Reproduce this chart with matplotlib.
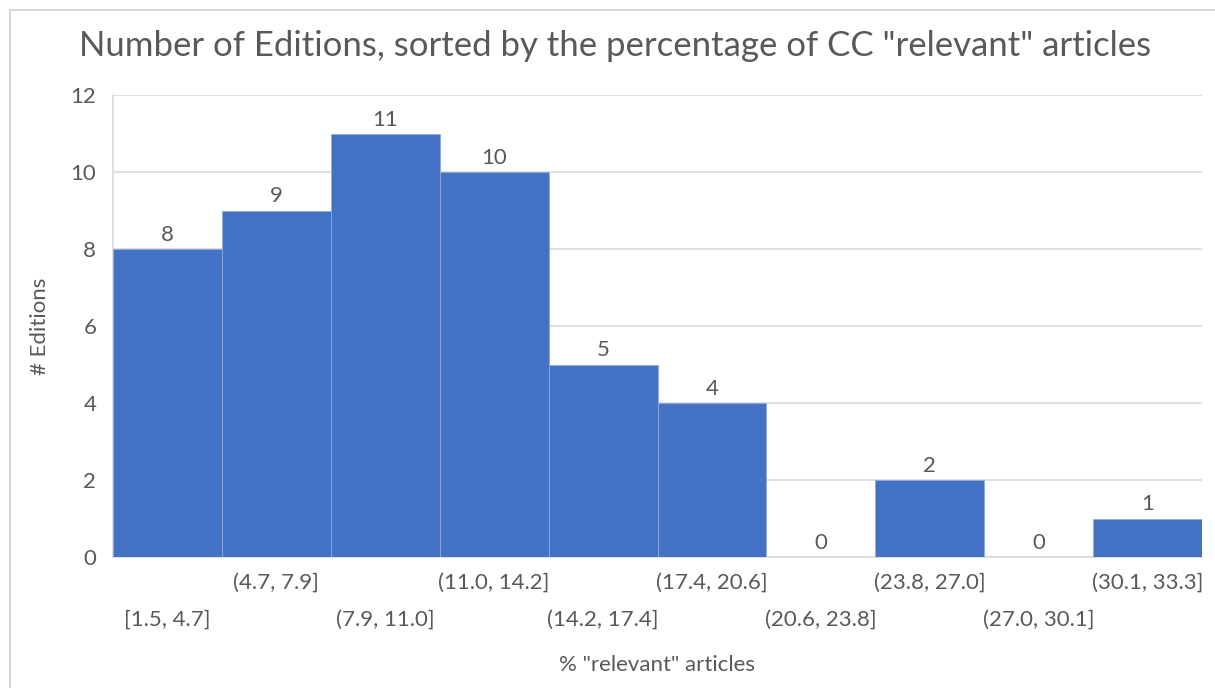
import matplotlib
matplotlib.use("Agg")
import matplotlib.pyplot as plt
from matplotlib.lines import Line2D

plt.rcParams['font.family'] = ['Lato', 'DejaVu Sans']

bins = ["[1.5, 4.7]", "(4.7, 7.9]", "(7.9, 11.0]", "(11.0, 14.2]", "(14.2, 17.4]",
        "(17.4, 20.6]", "(20.6, 23.8]", "(23.8, 27.0]", "(27.0, 30.1]", "(30.1, 33.3]"]
counts = [8, 9, 11, 10, 5, 4, 0, 2, 0, 1]
y_ticks = [0, 2, 4, 6, 8, 10, 12]

title = 'Number of Editions, sorted by the percentage of CC "relevant" articles'
x_title = '% "relevant" articles'
y_title = '# Editions'

text_color = "#595959"
grid_color = "#d9d9d9"
bar_color = "#4472c4"
fs = 16

W, H = 1215, 688
fig = plt.figure(figsize=(W / 100, H / 100), dpi=100)
ax = fig.add_axes([113 / W, (H - 557) / H, (1202 - 113) / W, (557 - 95) / H])

x = list(range(len(bins)))
ax.bar(x, counts, width=1.0, color=bar_color, edgecolor="#8eaadb", linewidth=0.6, zorder=3)

ax.set_xlim(-0.5, len(bins) - 0.5)
ax.set_ylim(0, 12)
ax.set_yticks(y_ticks)
ax.yaxis.grid(True, color=grid_color, linewidth=1.2, zorder=0)
ax.tick_params(axis="y", length=0, pad=12, labelsize=fs, labelcolor=text_color)
ax.tick_params(axis="x", length=0, labelbottom=False)

for s in ["top", "right"]:
    ax.spines[s].set_visible(False)
for s in ["left", "bottom"]:
    ax.spines[s].set_color(grid_color)
    ax.spines[s].set_linewidth(1.2)

# staggered category labels
for i, lab in enumerate(bins):
    off = -26 if i % 2 == 1 else -63
    ax.annotate(lab, (i, 0), xytext=(0, off), textcoords="offset pixels",
                ha="center", va="center", fontsize=fs, color=text_color)

# value labels
for i, v in enumerate(counts):
    ax.annotate(str(v), (i, v), xytext=(0, 14), textcoords="offset pixels",
                ha="center", va="center", fontsize=fs, color=text_color)

fig.text(615 / W, 1 - 46 / H, title, ha="center", va="center", fontsize=25, color=text_color)
fig.text(657 / W, 1 - 665 / H, x_title, ha="center", va="center", fontsize=fs, color=text_color)
fig.text(40 / W, 1 - 326 / H, y_title, ha="center", va="center", rotation=90,
         fontsize=fs, color=text_color)

# chart area border
fig.add_artist(Line2D([9.5 / W, 9.5 / W], [0, 1 - 9.5 / H], transform=fig.transFigure,
                      color="#d0d0d0", linewidth=1.2))
fig.add_artist(Line2D([9.5 / W, 1], [1 - 9.5 / H, 1 - 9.5 / H], transform=fig.transFigure,
                      color="#d0d0d0", linewidth=1.2))

fig.savefig("out.png", dpi=100, facecolor="white")
